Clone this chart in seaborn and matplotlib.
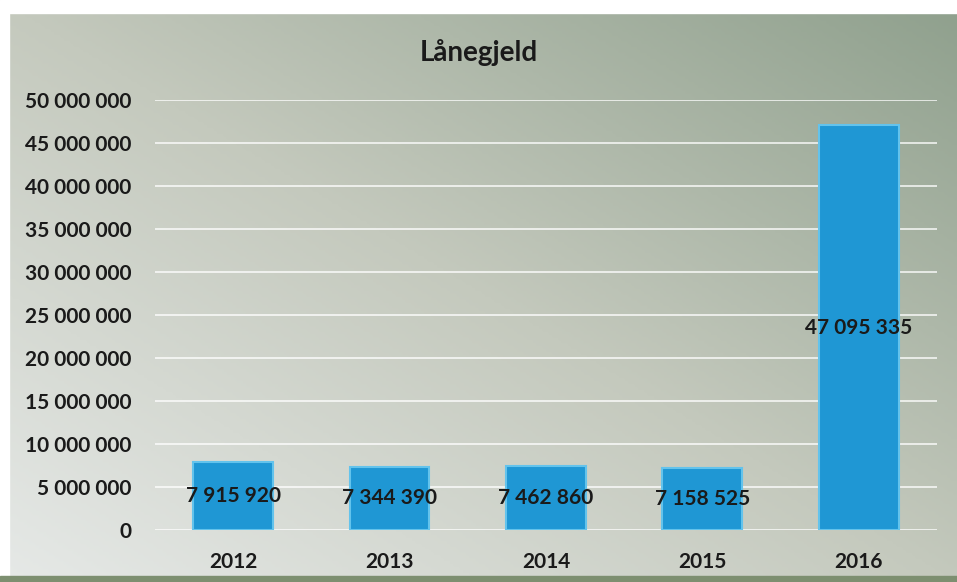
import numpy as np
import matplotlib.pyplot as plt
import seaborn as sns
from matplotlib.colors import LinearSegmentedColormap

years = ["2012", "2013", "2014", "2015", "2016"]
debt = [7915920, 7344390, 7462860, 7158525, 47095335]
y_ticks = [0, 5000000, 10000000, 15000000, 20000000, 25000000,
           30000000, 35000000, 40000000, 45000000, 50000000]
title = "Lånegjeld"


def fmt(v):
    return f"{v:,}".replace(",", " ")


sns.set_theme(style="white")
plt.rcParams["font.family"] = ["Lato", "DejaVu Sans"]

fig = plt.figure(figsize=(9.57, 5.82), dpi=100)

# gradient background of the slide (light bottom-left -> green top-right)
bg = fig.add_axes([0, 0, 1, 1], zorder=-10)
yy, xx = np.mgrid[0:1:200j, 0:1:300j]
shade = 0.5 * xx + 0.5 * (1 - yy)
cmap = LinearSegmentedColormap.from_list("bg", ["#e6e9e7", "#c4c9bd", "#8fa08d"])
bg.imshow(shade, cmap=cmap, aspect="auto", extent=[0, 1, 0, 1], origin="upper")
bg.axhspan(0.978, 1.0, color="white")
bg.axvspan(0.0, 0.009, color="white")
bg.axhspan(0.0, 0.011, color="#7d8f70")
bg.set_xlim(0, 1); bg.set_ylim(0, 1)
bg.axis("off")

ax = fig.add_axes([0.162, 0.0893, 0.817, 0.7387])
ax.set_facecolor("none")
sns.barplot(x=years, y=debt, color="#1f97d4", width=0.51,
            edgecolor="#63c3ec", linewidth=1.5, saturation=1, ax=ax, zorder=3)

for i, v in enumerate(debt):
    ax.text(i, v / 2, fmt(v), ha="center", va="center", fontsize=15,
            fontweight="bold", color="#1a1a1a", zorder=4)

ax.set_ylim(0, 50000000)
ax.set_yticks(y_ticks)
ax.set_yticklabels([fmt(t) for t in y_ticks], fontsize=15,
                   fontweight="bold", color="#1a1a1a")
ax.set_xticks(range(len(years)))
ax.set_xticklabels(years, fontsize=15, fontweight="bold", color="#1a1a1a")
ax.tick_params(axis="both", length=0)
ax.tick_params(axis="y", pad=17)
ax.tick_params(axis="x", pad=16)
ax.grid(axis="y", color="white", linewidth=1.2, alpha=0.85, zorder=0)
ax.set_axisbelow(True)
for s in ax.spines.values():
    s.set_visible(False)
ax.set_xlabel(""); ax.set_ylabel("")

fig.text(0.5, 0.91, title, ha="center", va="center", fontsize=20,
         fontweight="bold", color="#1a1a1a")

fig.savefig("out.png", dpi=100)
